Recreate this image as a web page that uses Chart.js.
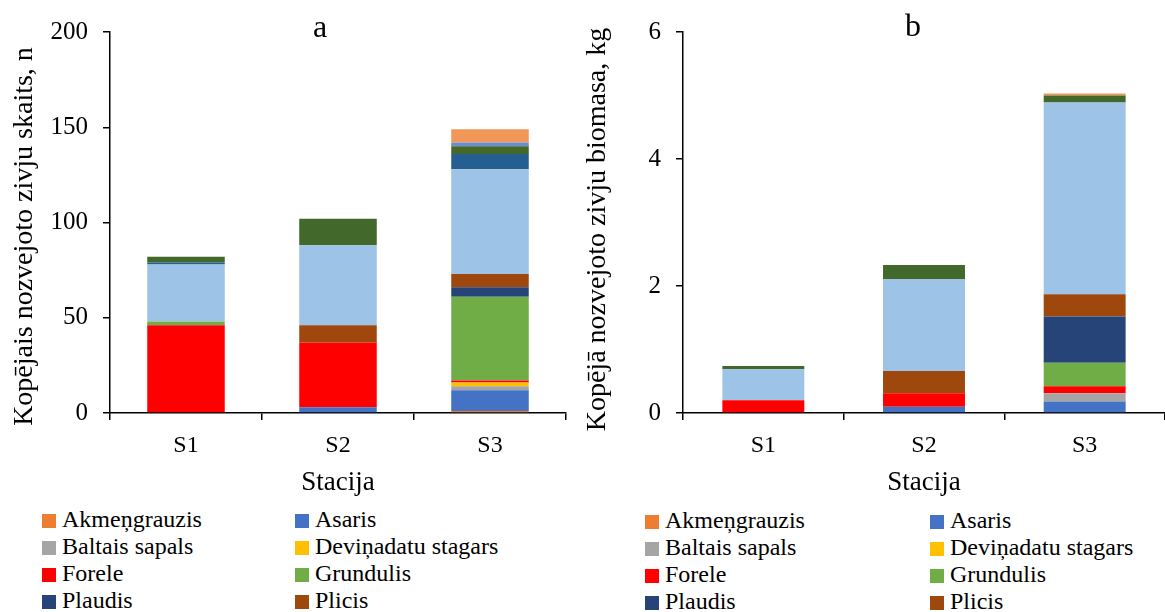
<!doctype html>
<html lang="lv">
<head>
<meta charset="utf-8">
<title>Nozvejoto zivju skaits un biomasa</title>
<style>
    * { margin: 0; padding: 0; }
    body { width: 1165px; height: 612px; background: #fff; position: relative; overflow: hidden;
        font-family: "Liberation Serif", "Times New Roman", serif; }
    .box { position: absolute; top: 0; }
    .legend { position: absolute; font-size: 24px; color: #000; }
    .legend .item { position: absolute; white-space: nowrap; line-height: 27px; height: 27px; }
    .legend .sw { display: inline-block; width: 14px; height: 14px; margin-right: 6px; vertical-align: -1px; }
</style>
</head>
<body>
<div class="box" style="left:0;"><canvas id="chartA" width="575" height="500"></canvas></div>
<div class="box" style="left:575px;"><canvas id="chartB" width="590" height="500"></canvas></div>
<div class="legend" id="legendA" style="left:42px; top:506px;"></div>
<div class="legend" id="legendB" style="left:645px; top:507px;"></div>

<script src="https://cdn.jsdelivr.net/npm/chart.js"></script>
<script>
    // data
    const stations = ['S1', 'S2', 'S3'];
    const species = ['Akmeņgrauzis', 'Asaris', 'Baltais sapals', 'Deviņadatu stagars', 'Forele',
        'Grundulis', 'Plaudis', 'Plicis', 'Rauda', 'Salate', 'Vimba', 'Zandarts', 'Zutis'];
    const colors = ['#ED7D31', '#4472C4', '#A5A5A5', '#FFC000', '#FF0000', '#70AD47', '#264478',
        '#9E480E', '#9DC3E6', '#255E91', '#43682B', '#698ED0', '#F1975A'];

    // a - skaits (n), one row per species: S1, S2, S3
    const countAkmengrauzis = [0, 0, 1];
    const countAsaris = [0, 3, 11];
    const countBaltaisSapals = [0, 0, 2];
    const countStagars = [0, 0, 2];
    const countForele = [46, 34, 1];
    const countGrundulis = [2, 0, 44];
    const countPlaudis = [0, 0, 5];
    const countPlicis = [0, 9, 7];
    const countRauda = [30, 42, 55];
    const countSalate = [1, 0, 8];
    const countVimba = [3, 14, 4];
    const countZandarts = [0, 0, 2];
    const countZutis = [0, 0, 7];

    // b - biomasa (kg)
    const massAkmengrauzis = [0, 0, 0];
    const massAsaris = [0, 0.10, 0.18];
    const massBaltaisSapals = [0, 0, 0.13];
    const massStagars = [0, 0, 0];
    const massForele = [0.20, 0.21, 0.11];
    const massGrundulis = [0, 0, 0.37];
    const massPlaudis = [0, 0, 0.73];
    const massPlicis = [0, 0.35, 0.35];
    const massRauda = [0.49, 1.45, 3.02];
    const massSalate = [0, 0, 0];
    const massVimba = [0.05, 0.22, 0.11];
    const massZandarts = [0, 0, 0];
    const massZutis = [0, 0, 0.03];

    const countSeries = [countAkmengrauzis, countAsaris, countBaltaisSapals, countStagars, countForele,
        countGrundulis, countPlaudis, countPlicis, countRauda, countSalate, countVimba, countZandarts, countZutis];
    const massSeries = [massAkmengrauzis, massAsaris, massBaltaisSapals, massStagars, massForele,
        massGrundulis, massPlaudis, massPlicis, massRauda, massSalate, massVimba, massZandarts, massZutis];

    const countTicks = [0, 50, 100, 150, 200];
    const massTicks = [0, 2, 4, 6];

    const serif = '"Liberation Serif", "Times New Roman", serif';

    // panel letter (a / b)
    const panelLetter = {
        id: 'panelLetter',
        afterDraw(chart, args, opts) {
            const {ctx} = chart;
            ctx.save();
            ctx.font = '32px ' + serif;
            ctx.fillStyle = '#000';
            ctx.textAlign = 'center';
            ctx.textBaseline = 'alphabetic';
            ctx.fillText(opts.text, opts.x, opts.y);
            ctx.restore();
        }
    };

    function makeDatasets(series) {
        return species.map((name, i) => ({
            label: name,
            data: series[i],
            backgroundColor: colors[i],
            borderWidth: 0,
            categoryPercentage: 1,
            barPercentage: 0.51,
        }));
    }

    function makeConfig(series, ticks, yTitle, letter, yWidth, titlePad, padRight) {
        return {
            type: 'bar',
            data: {labels: stations, datasets: makeDatasets(series)},
            options: {
                responsive: false,
                animation: false,
                layout: {padding: {top: 32, right: padRight, bottom: 0, left: 0}},
                plugins: {
                    legend: {display: false},
                    panelLetter: letter,
                },
                scales: {
                    x: {
                        stacked: true,
                        grid: {drawOnChartArea: false, drawTicks: true, tickLength: 7, color: '#000', lineWidth: 1.5},
                        border: {color: '#000', width: 1.5},
                        ticks: {color: '#000', padding: 11, font: {family: serif, size: 24}},
                        title: {display: true, text: 'Stacija', color: '#000', padding: {top: 0, bottom: 1},
                            font: {family: serif, size: 27}},
                        afterFit(scale) { scale.height = 87; }
                    },
                    y: {
                        stacked: true,
                        min: 0,
                        max: ticks[ticks.length - 1],
                        afterBuildTicks(scale) { scale.ticks = ticks.map(v => ({value: v})); },
                        grid: {drawOnChartArea: false, drawTicks: true, tickLength: 7, color: '#000', lineWidth: 1.5},
                        border: {color: '#000', width: 1.5},
                        ticks: {color: '#000', padding: 15, font: {family: serif, size: 25}},
                        title: {display: true, text: yTitle, color: '#000', padding: {top: titlePad, bottom: 0},
                            font: {family: serif, size: 28}},
                        afterFit(scale) { scale.width = yWidth; }
                    }
                }
            },
            plugins: [panelLetter]
        };
    }

    // trailing spaces nudge the rotated title slightly downwards, as in the figure
    new Chart(document.getElementById('chartA'),
        makeConfig(countSeries, countTicks, 'Kopējais nozvejoto zivju skaits, n    ',
            {text: 'a', x: 320, y: 37}, 110, 8, 9));
    new Chart(document.getElementById('chartB'),
        makeConfig(massSeries, massTicks, 'Kopējā nozvejoto zivju biomasa, kg  ',
            {text: 'b', x: 338, y: 36}, 108, 6, 0));

    // legends (two columns, first eight species as visible in the figure)
    function buildLegend(el, col2) {
        species.slice(0, 8).forEach((name, i) => {
            const item = document.createElement('div');
            item.className = 'item';
            item.style.left = (i % 2 ? col2 : 0) + 'px';
            item.style.top = (Math.floor(i / 2) * 27) + 'px';
            const sw = document.createElement('span');
            sw.className = 'sw';
            sw.style.background = colors[i];
            item.appendChild(sw);
            item.appendChild(document.createTextNode(name));
            el.appendChild(item);
        });
    }
    buildLegend(document.getElementById('legendA'), 253);
    buildLegend(document.getElementById('legendB'), 285);
</script>
</body>
</html>
